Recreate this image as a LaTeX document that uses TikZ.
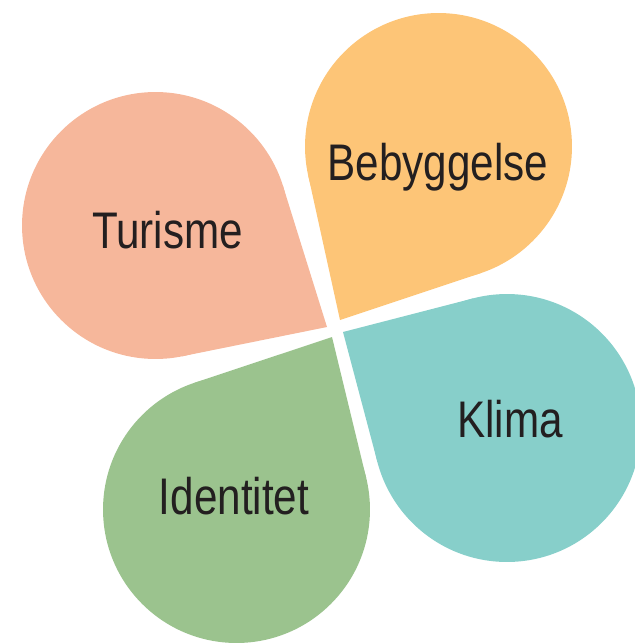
\documentclass[tikz,border=0pt]{standalone}
\usepackage{fontspec}
\setmainfont{Liberation Sans}[FakeStretch=0.82]
\usetikzlibrary{calc}
\definecolor{salmon}{RGB}{246,183,155}
\definecolor{apricot}{RGB}{253,197,119}
\definecolor{aqua}{RGB}{135,207,202}
\definecolor{sage}{RGB}{155,195,142}
\definecolor{ink}{RGB}{35,31,32}
\begin{document}
\begin{tikzpicture}[x=0.02cm,y=-0.02cm]
\tikzset{petal/.style={circle,inner sep=0pt,outer sep=0pt,minimum size=5.34cm}}
\tikzset{word/.style={anchor=base,text=ink,font=\fontsize{29.3pt}{35pt}\selectfont}}
\useasboundingbox (0,0) rectangle (635,643);
  % round part of each leaf
  \node[petal,fill=salmon] (tur) at (155.5,225.5){};
  \node[petal,fill=apricot] (beb) at (438.5,146.5){};
  \node[petal,fill=aqua,minimum size=5.36cm] (kli) at (507,428){};
  \node[petal,fill=sage] (ide) at (236.5,509.5){};
  % tips at the middle
  \coordinate (turtip) at (327,327);
  \coordinate (bebtip) at (340,320);
  \coordinate (klitip) at (343,332);
  \coordinate (idetip) at (332,337);
  % pointed part of each leaf
  \fill[salmon] (turtip) -- (tangent cs:node=tur,point={(turtip)},solution=1)
    -- (tangent cs:node=tur,point={(turtip)},solution=2) -- cycle;
  \fill[apricot] (bebtip) -- (tangent cs:node=beb,point={(bebtip)},solution=1)
    -- (tangent cs:node=beb,point={(bebtip)},solution=2) -- cycle;
  \fill[aqua] (klitip) -- (tangent cs:node=kli,point={(klitip)},solution=1)
    -- (tangent cs:node=kli,point={(klitip)},solution=2) -- cycle;
  \fill[sage] (idetip) -- (tangent cs:node=ide,point={(idetip)},solution=1)
    -- (tangent cs:node=ide,point={(idetip)},solution=2) -- cycle;
  % names
  \node[word] (turisme) at (167.5,248){Turisme};
  \node[word] (bebyggelse) at (438,180){Bebyggelse};
  \node[word] (klima) at (510,437){Klima};
  \node[word] (identitet) at (234,514){Identitet};
\end{tikzpicture}
\end{document}
